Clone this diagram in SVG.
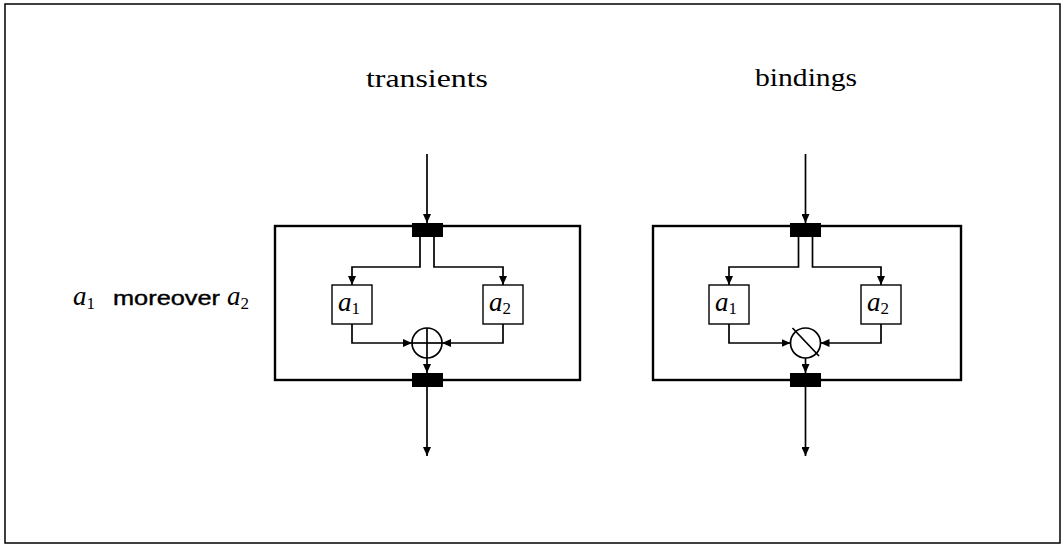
<svg xmlns="http://www.w3.org/2000/svg" width="1062" height="546" viewBox="0 0 1062 546">
<defs>
<marker id="ah" markerWidth="10" markerHeight="8" refX="9" refY="4" orient="auto" markerUnits="userSpaceOnUse"><path d="M0,0 L9,4 L0,8 z" fill="#000"/></marker>
</defs>
<style>
.frame{fill:none;stroke:#000;stroke-width:2.4}
.ln{fill:none;stroke:#000;stroke-width:1.7}
.arr{fill:none;stroke:#000;stroke-width:1.7;marker-end:url(#ah)}
.port{fill:#000}
.box{fill:#fff;stroke:#000;stroke-width:1.4}
.circ{fill:#fff;stroke:#000;stroke-width:1.7}
.ttl{font-family:"Liberation Serif",serif;font-size:26px}
.var{font-family:"Liberation Serif",serif;font-style:italic;font-size:27px}
.sub{font-style:normal;font-size:17px}
.sans{font-family:"Liberation Sans",Arial,sans-serif;font-size:21px;stroke:#000;stroke-width:0.4}
</style>
<rect x="5" y="4" width="1055" height="539" fill="#fff" stroke="#000" stroke-width="1.5"/>
<g id="title-transients"><text class="ttl" x="427" y="87" text-anchor="middle" textLength="122" lengthAdjust="spacingAndGlyphs">transients</text></g>
<g id="title-bindings"><text class="ttl" x="806" y="86" text-anchor="middle" textLength="102" lengthAdjust="spacingAndGlyphs">bindings</text></g>
<g id="label"><text class="var" x="73" y="305">a<tspan class="sub" dy="4">1</tspan></text><text class="sans" x="113" y="305" textLength="107" lengthAdjust="spacingAndGlyphs">moreover</text><text class="var" x="227" y="305">a<tspan class="sub" dy="4">2</tspan></text></g>

<g id="connectors">
<line class="arr" x1="427" y1="154" x2="427" y2="223"/>
<polyline class="arr" points="420,237 420,267 352,267 352,285"/>
<polyline class="arr" points="434,237 434,267 503,267 503,285"/>
<polyline class="arr" points="352,324 352,343 412,343"/>
<polyline class="arr" points="503,324 503,343 442,343"/>
<line class="arr" x1="427" y1="358" x2="427" y2="373"/>
<line class="arr" x1="427" y1="387" x2="427" y2="456"/>
<line class="arr" x1="805.5" y1="154" x2="805.5" y2="223"/>
<polyline class="arr" points="798.5,237 798.5,267 729,267 729,285"/>
<polyline class="arr" points="812.5,237 812.5,267 881,267 881,285"/>
<polyline class="arr" points="729,324 729,343 790.5,343"/>
<polyline class="arr" points="881,324 881,343 820.5,343"/>
<line class="arr" x1="805.5" y1="358" x2="805.5" y2="373"/>
<line class="arr" x1="805.5" y1="387" x2="805.5" y2="456"/>
</g>

<g id="frame-transients"><rect class="frame" x="275" y="226" width="305" height="154"/></g>
<g id="frame-bindings"><rect class="frame" x="653" y="226" width="308" height="154"/></g>

<g id="in-port-1"><rect class="port" x="412" y="223" width="31" height="14"/></g>
<g id="out-port-1"><rect class="port" x="412" y="373" width="31" height="14"/></g>
<g id="in-port-2"><rect class="port" x="790" y="223" width="31" height="14"/></g>
<g id="out-port-2"><rect class="port" x="790" y="373" width="31" height="14"/></g>

<g id="a1-left"><rect class="box" x="332" y="285" width="40" height="39"/><text class="var" x="338" y="311">a<tspan class="sub" dy="3">1</tspan></text></g>
<g id="a2-left"><rect class="box" x="483" y="285" width="40" height="39"/><text class="var" x="489" y="311">a<tspan class="sub" dy="3">2</tspan></text></g>
<g id="a1-right"><rect class="box" x="709" y="285" width="40" height="39"/><text class="var" x="715" y="311">a<tspan class="sub" dy="3">1</tspan></text></g>
<g id="a2-right"><rect class="box" x="861" y="285" width="40" height="39"/><text class="var" x="867" y="311">a<tspan class="sub" dy="3">2</tspan></text></g>

<g id="oplus"><circle class="circ" cx="427" cy="343" r="15"/><line class="ln" x1="412" y1="343" x2="442" y2="343"/><line class="ln" x1="427" y1="328" x2="427" y2="358"/></g>
<g id="oslash"><circle class="circ" cx="805.5" cy="343" r="15"/><line class="ln" x1="792.5" y1="328" x2="819" y2="356"/></g>
</svg>
